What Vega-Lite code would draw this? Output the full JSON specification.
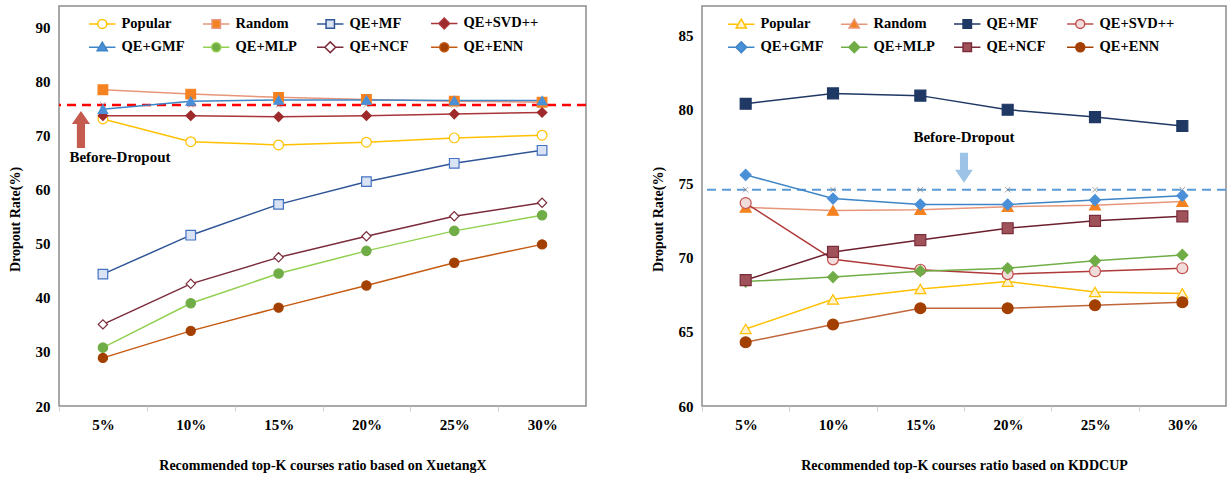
{
  "$schema": "https://vega.github.io/schema/vega-lite/v6.json",
  "background": "white",
  "padding": {"left": 7, "top": 5, "right": 5, "bottom": 5},
  "datasets": {
    "left": [
      {"k": 5, "series": "Popular", "v": 73.1}, {"k": 10, "series": "Popular", "v": 68.9}, {"k": 15, "series": "Popular", "v": 68.3}, {"k": 20, "series": "Popular", "v": 68.8}, {"k": 25, "series": "Popular", "v": 69.6}, {"k": 30, "series": "Popular", "v": 70.1},
      {"k": 5, "series": "Random", "v": 78.5}, {"k": 10, "series": "Random", "v": 77.7}, {"k": 15, "series": "Random", "v": 77.1}, {"k": 20, "series": "Random", "v": 76.7}, {"k": 25, "series": "Random", "v": 76.4}, {"k": 30, "series": "Random", "v": 76.2},
      {"k": 5, "series": "QE+MF", "v": 44.4}, {"k": 10, "series": "QE+MF", "v": 51.6}, {"k": 15, "series": "QE+MF", "v": 57.3}, {"k": 20, "series": "QE+MF", "v": 61.5}, {"k": 25, "series": "QE+MF", "v": 64.9}, {"k": 30, "series": "QE+MF", "v": 67.3},
      {"k": 5, "series": "QE+SVD++", "v": 73.7}, {"k": 10, "series": "QE+SVD++", "v": 73.7}, {"k": 15, "series": "QE+SVD++", "v": 73.5}, {"k": 20, "series": "QE+SVD++", "v": 73.7}, {"k": 25, "series": "QE+SVD++", "v": 74.0}, {"k": 30, "series": "QE+SVD++", "v": 74.3},
      {"k": 5, "series": "QE+GMF", "v": 74.9}, {"k": 10, "series": "QE+GMF", "v": 76.4}, {"k": 15, "series": "QE+GMF", "v": 76.6}, {"k": 20, "series": "QE+GMF", "v": 76.6}, {"k": 25, "series": "QE+GMF", "v": 76.5}, {"k": 30, "series": "QE+GMF", "v": 76.5},
      {"k": 5, "series": "QE+MLP", "v": 30.8}, {"k": 10, "series": "QE+MLP", "v": 39.0}, {"k": 15, "series": "QE+MLP", "v": 44.5}, {"k": 20, "series": "QE+MLP", "v": 48.7}, {"k": 25, "series": "QE+MLP", "v": 52.4}, {"k": 30, "series": "QE+MLP", "v": 55.3},
      {"k": 5, "series": "QE+NCF", "v": 35.1}, {"k": 10, "series": "QE+NCF", "v": 42.6}, {"k": 15, "series": "QE+NCF", "v": 47.5}, {"k": 20, "series": "QE+NCF", "v": 51.4}, {"k": 25, "series": "QE+NCF", "v": 55.1}, {"k": 30, "series": "QE+NCF", "v": 57.6},
      {"k": 5, "series": "QE+ENN", "v": 28.9}, {"k": 10, "series": "QE+ENN", "v": 33.9}, {"k": 15, "series": "QE+ENN", "v": 38.2}, {"k": 20, "series": "QE+ENN", "v": 42.3}, {"k": 25, "series": "QE+ENN", "v": 46.5}, {"k": 30, "series": "QE+ENN", "v": 49.9}
    ],
    "right": [
      {"k": 5, "series": "Popular", "v": 65.2}, {"k": 10, "series": "Popular", "v": 67.2}, {"k": 15, "series": "Popular", "v": 67.9}, {"k": 20, "series": "Popular", "v": 68.4}, {"k": 25, "series": "Popular", "v": 67.7}, {"k": 30, "series": "Popular", "v": 67.6},
      {"k": 5, "series": "Random", "v": 73.4}, {"k": 10, "series": "Random", "v": 73.2}, {"k": 15, "series": "Random", "v": 73.25}, {"k": 20, "series": "Random", "v": 73.45}, {"k": 25, "series": "Random", "v": 73.55}, {"k": 30, "series": "Random", "v": 73.8},
      {"k": 5, "series": "QE+MF", "v": 80.4}, {"k": 10, "series": "QE+MF", "v": 81.1}, {"k": 15, "series": "QE+MF", "v": 80.95}, {"k": 20, "series": "QE+MF", "v": 80.0}, {"k": 25, "series": "QE+MF", "v": 79.5}, {"k": 30, "series": "QE+MF", "v": 78.9},
      {"k": 5, "series": "QE+SVD++", "v": 73.7}, {"k": 10, "series": "QE+SVD++", "v": 69.9}, {"k": 15, "series": "QE+SVD++", "v": 69.2}, {"k": 20, "series": "QE+SVD++", "v": 68.9}, {"k": 25, "series": "QE+SVD++", "v": 69.1}, {"k": 30, "series": "QE+SVD++", "v": 69.3},
      {"k": 5, "series": "QE+GMF", "v": 75.6}, {"k": 10, "series": "QE+GMF", "v": 74.0}, {"k": 15, "series": "QE+GMF", "v": 73.6}, {"k": 20, "series": "QE+GMF", "v": 73.6}, {"k": 25, "series": "QE+GMF", "v": 73.9}, {"k": 30, "series": "QE+GMF", "v": 74.2},
      {"k": 5, "series": "QE+MLP", "v": 68.4}, {"k": 10, "series": "QE+MLP", "v": 68.7}, {"k": 15, "series": "QE+MLP", "v": 69.1}, {"k": 20, "series": "QE+MLP", "v": 69.3}, {"k": 25, "series": "QE+MLP", "v": 69.8}, {"k": 30, "series": "QE+MLP", "v": 70.2},
      {"k": 5, "series": "QE+NCF", "v": 68.5}, {"k": 10, "series": "QE+NCF", "v": 70.4}, {"k": 15, "series": "QE+NCF", "v": 71.2}, {"k": 20, "series": "QE+NCF", "v": 72.0}, {"k": 25, "series": "QE+NCF", "v": 72.5}, {"k": 30, "series": "QE+NCF", "v": 72.8},
      {"k": 5, "series": "QE+ENN", "v": 64.3}, {"k": 10, "series": "QE+ENN", "v": 65.5}, {"k": 15, "series": "QE+ENN", "v": 66.6}, {"k": 20, "series": "QE+ENN", "v": 66.6}, {"k": 25, "series": "QE+ENN", "v": 66.8}, {"k": 30, "series": "QE+ENN", "v": 67.0}
    ],
    "leftBase": [{"k": 5, "v": 75.7}, {"k": 10, "v": 75.7}, {"k": 15, "v": 75.7}, {"k": 20, "v": 75.7}, {"k": 25, "v": 75.7}, {"k": 30, "v": 75.7}],
    "rightBase": [{"k": 5, "v": 74.6}, {"k": 10, "v": 74.6}, {"k": 15, "v": 74.6}, {"k": 20, "v": 74.6}, {"k": 25, "v": 74.6}, {"k": 30, "v": 74.6}],
    "leftRef": [{"v": 75.7}],
    "rightRef": [{"v": 74.6}],
    "leftArrow": [{"k": 3.75, "v": 71.16}],
    "rightArrow": [{"k": 17.5, "v": 76.08}],
    "leftNote": [{"k": 5.97, "v": 66.07, "label": "Before-Dropout"}],
    "rightNote": [{"k": 17.5, "v": 78.15, "label": "Before-Dropout"}]
  },
  "hconcat": [
    {
      "width": 527,
      "height": 400,
      "resolve": {"scale": {"color": "independent", "fill": "independent", "stroke": "independent", "shape": "independent", "size": "independent"}},
      "layer": [
        {
          "data": {"name": "leftRef"},
          "mark": {"type": "rule", "color": "#FF0000", "strokeWidth": 2.5, "strokeDash": [9, 6]},
          "encoding": {"y": {"field": "v", "type": "quantitative", "scale": {"domain": [20, 94], "nice": false, "zero": false}}}
        },
        {
          "data": {"name": "leftBase"},
          "mark": {"type": "point", "shape": "M-1,-1L1,1M1,-1L-1,1", "size": 30, "stroke": "#7F7F7F", "strokeWidth": 1, "filled": false},
          "encoding": {
            "x": {"field": "k", "type": "quantitative", "scale": {"domain": [2.5, 32.5], "nice": false, "zero": false}},
            "y": {"field": "v", "type": "quantitative", "scale": {"domain": [20, 94], "nice": false, "zero": false}}
          }
        },
        {
          "data": {"name": "left"},
          "mark": {"type": "line", "strokeWidth": 1.5},
          "encoding": {
            "x": {"field": "k", "type": "quantitative", "scale": {"domain": [2.5, 32.5], "nice": false, "zero": false},
              "axis": {"values": [2.5, 7.5, 12.5, 17.5, 22.5, 27.5], "labelExpr": "(datum.value + 2.5) + '%'", "labelOffset": 44, "labelFlush": false, "labelOverlap": false, "labelBound": false, "title": "Recommended top-K courses ratio based on XuetangX"}},
            "y": {"field": "v", "type": "quantitative", "scale": {"domain": [20, 94], "nice": false, "zero": false},
              "axis": {"values": [20, 30, 40, 50, 60, 70, 80, 90], "title": "Dropout Rate(%)", "titleY": 213}},
            "color": {"field": "series", "type": "nominal", "legend": null,
              "scale": {"domain": ["Popular", "Random", "QE+MF", "QE+SVD++", "QE+GMF", "QE+MLP", "QE+NCF", "QE+ENN"],
                "range": ["#FFC000", "#E8967A", "#2F5597", "#A8353A", "#3D85C6", "#92D050", "#7B2C3B", "#C55A11"]}}
          }
        },
        {
          "data": {"name": "left"},
          "mark": {"type": "point", "filled": true, "strokeWidth": 1.2, "opacity": 1},
          "encoding": {
            "x": {"field": "k", "type": "quantitative", "scale": {"domain": [2.5, 32.5], "nice": false, "zero": false}},
            "y": {"field": "v", "type": "quantitative", "scale": {"domain": [20, 94], "nice": false, "zero": false}},
            "fill": {"field": "series", "type": "nominal", "legend": null,
              "scale": {"domain": ["Popular", "Random", "QE+MF", "QE+SVD++", "QE+GMF", "QE+MLP", "QE+NCF", "QE+ENN"],
                "range": ["#FFFFFF", "#F58220", "#DAE3F3", "#9E2A2B", "#4A90D9", "#70AD47", "#FFFFFF", "#A33F00"]}},
            "stroke": {"field": "series", "type": "nominal", "legend": null,
              "scale": {"domain": ["Popular", "Random", "QE+MF", "QE+SVD++", "QE+GMF", "QE+MLP", "QE+NCF", "QE+ENN"],
                "range": ["#FFC000", "#F58220", "#4472C4", "#9E2A2B", "#4A90D9", "#70AD47", "#7B2C3B", "#A33F00"]}},
            "shape": {"field": "series", "type": "nominal", "legend": null,
              "scale": {"domain": ["Popular", "Random", "QE+MF", "QE+SVD++", "QE+GMF", "QE+MLP", "QE+NCF", "QE+ENN"],
                "range": ["circle", "square", "square", "diamond", "triangle-up", "circle", "diamond", "circle"]}},
            "size": {"field": "series", "type": "nominal", "legend": null,
              "scale": {"domain": ["Popular", "Random", "QE+MF", "QE+SVD++", "QE+GMF", "QE+MLP", "QE+NCF", "QE+ENN"],
                "range": [95, 85, 75, 130, 100, 95, 130, 95]}}
          }
        },
        {
          "data": {"name": "left"},
          "mark": {"type": "point", "filled": true, "opacity": 0, "strokeWidth": 1.5},
          "encoding": {
            "x": {"field": "k", "type": "quantitative", "scale": {"domain": [2.5, 32.5], "nice": false, "zero": false}},
            "y": {"field": "v", "type": "quantitative", "scale": {"domain": [20, 94], "nice": false, "zero": false}},
            "fill": {"field": "series", "type": "nominal",
              "scale": {"domain": ["Popular", "Random", "QE+MF", "QE+SVD++", "QE+GMF", "QE+MLP", "QE+NCF", "QE+ENN"],
                "range": ["#FFFFFF", "#F58220", "#DAE3F3", "#9E2A2B", "#4A90D9", "#70AD47", "#FFFFFF", "#A33F00"]},
              "legend": {"orient": "none", "direction": "horizontal", "legendX": 36, "legendY": 10, "columns": 4, "gridAlign": "all", "title": null, "padding": 0, "symbolSize": 144, "symbolStrokeWidth": 1.5, "symbolOpacity": 1, "labelOffset": 12, "columnPadding": 3, "rowPadding": 6, "labelFont": "Liberation Serif", "labelFontWeight": "bold", "labelFontSize": 14.5, "labelColor": "#000000"}},
            "stroke": {"field": "series", "type": "nominal",
              "scale": {"domain": ["Popular", "Random", "QE+MF", "QE+SVD++", "QE+GMF", "QE+MLP", "QE+NCF", "QE+ENN"],
                "range": ["#FFC000", "#E8967A", "#2F5597", "#A8353A", "#3D85C6", "#92D050", "#7B2C3B", "#C55A11"]},
              "legend": {"orient": "none", "direction": "horizontal", "legendX": 36, "legendY": 10, "columns": 4, "gridAlign": "all", "title": null, "padding": 0, "symbolSize": 144, "symbolStrokeWidth": 1.5, "symbolOpacity": 1, "labelOffset": 12, "columnPadding": 3, "rowPadding": 6, "labelFont": "Liberation Serif", "labelFontWeight": "bold", "labelFontSize": 14.5, "labelColor": "#000000"}},
            "shape": {"field": "series", "type": "nominal",
              "scale": {"domain": ["Popular", "Random", "QE+MF", "QE+SVD++", "QE+GMF", "QE+MLP", "QE+NCF", "QE+ENN"],
                "range": [
                  "M-2.2,0H-0.75M0.75,0H2.2M0.75,0A0.75,0.75,0,1,1,-0.75,0A0.75,0.75,0,1,1,0.75,0Z",
                  "M-2.2,0H-0.7M0.7,0H2.2M-0.7,-0.7H0.7V0.7H-0.7Z",
                  "M-2.2,0H-0.7M0.7,0H2.2M-0.7,-0.7H0.7V0.7H-0.7Z",
                  "M-2.2,0H-0.9M0.9,0H2.2M0,-0.9L0.9,0L0,0.9L-0.9,0Z",
                  "M-2.2,0H-0.55M0.55,0H2.2M0,-0.85L0.85,0.6H-0.85Z",
                  "M-2.2,0H-0.75M0.75,0H2.2M0.75,0A0.75,0.75,0,1,1,-0.75,0A0.75,0.75,0,1,1,0.75,0Z",
                  "M-2.2,0H-0.9M0.9,0H2.2M0,-0.9L0.9,0L0,0.9L-0.9,0Z",
                  "M-2.2,0H-0.75M0.75,0H2.2M0.75,0A0.75,0.75,0,1,1,-0.75,0A0.75,0.75,0,1,1,0.75,0Z"
                ]},
              "legend": {"orient": "none", "direction": "horizontal", "legendX": 36, "legendY": 10, "columns": 4, "gridAlign": "all", "title": null, "padding": 0, "symbolSize": 144, "symbolStrokeWidth": 1.5, "symbolOpacity": 1, "labelOffset": 12, "columnPadding": 3, "rowPadding": 6, "labelFont": "Liberation Serif", "labelFontWeight": "bold", "labelFontSize": 14.5, "labelColor": "#000000"}}
          }
        },
        {
          "data": {"name": "leftArrow"},
          "mark": {"type": "point", "shape": "M0,-1L0.49,-0.3H0.22V1H-0.22V-0.3H-0.49Z", "size": 1369, "filled": true, "color": "#C55A4F", "opacity": 1, "strokeWidth": 0},
          "encoding": {
            "x": {"field": "k", "type": "quantitative", "scale": {"domain": [2.5, 32.5], "nice": false, "zero": false}},
            "y": {"field": "v", "type": "quantitative", "scale": {"domain": [20, 94], "nice": false, "zero": false}}
          }
        },
        {
          "data": {"name": "leftNote"},
          "mark": {"type": "text", "font": "Liberation Serif", "fontWeight": "bold", "fontSize": 15, "color": "#000000", "align": "center", "baseline": "middle"},
          "encoding": {
            "x": {"field": "k", "type": "quantitative", "scale": {"domain": [2.5, 32.5], "nice": false, "zero": false}},
            "y": {"field": "v", "type": "quantitative", "scale": {"domain": [20, 94], "nice": false, "zero": false}},
            "text": {"field": "label"}
          }
        }
      ]
    },
    {
      "width": 524,
      "height": 400,
      "resolve": {"scale": {"color": "independent", "fill": "independent", "stroke": "independent", "shape": "independent", "size": "independent"}},
      "layer": [
        {
          "data": {"name": "rightRef"},
          "mark": {"type": "rule", "color": "#5B9BD5", "strokeWidth": 2, "strokeDash": [9, 6]},
          "encoding": {"y": {"field": "v", "type": "quantitative", "scale": {"domain": [60, 87], "nice": false, "zero": false}}}
        },
        {
          "data": {"name": "rightBase"},
          "mark": {"type": "point", "shape": "M-1,-1L1,1M1,-1L-1,1", "size": 30, "stroke": "#7F7F7F", "strokeWidth": 1, "filled": false},
          "encoding": {
            "x": {"field": "k", "type": "quantitative", "scale": {"domain": [2.5, 32.5], "nice": false, "zero": false}},
            "y": {"field": "v", "type": "quantitative", "scale": {"domain": [60, 87], "nice": false, "zero": false}}
          }
        },
        {
          "data": {"name": "right"},
          "mark": {"type": "line", "strokeWidth": 1.5},
          "encoding": {
            "x": {"field": "k", "type": "quantitative", "scale": {"domain": [2.5, 32.5], "nice": false, "zero": false},
              "axis": {"values": [2.5, 7.5, 12.5, 17.5, 22.5, 27.5], "labelExpr": "(datum.value + 2.5) + '%'", "labelOffset": 44, "labelFlush": false, "labelOverlap": false, "labelBound": false, "title": "Recommended top-K courses ratio based on KDDCUP"}},
            "y": {"field": "v", "type": "quantitative", "scale": {"domain": [60, 87], "nice": false, "zero": false},
              "axis": {"values": [60, 65, 70, 75, 80, 85], "title": "Dropout Rate(%)", "titleY": 213}},
            "color": {"field": "series", "type": "nominal", "legend": null,
              "scale": {"domain": ["Popular", "Random", "QE+MF", "QE+SVD++", "QE+GMF", "QE+MLP", "QE+NCF", "QE+ENN"],
                "range": ["#FFC000", "#E8967A", "#1F3864", "#B03A3A", "#3D85C6", "#70AD47", "#6B1F2E", "#C0663A"]}}
          }
        },
        {
          "data": {"name": "right"},
          "mark": {"type": "point", "filled": true, "strokeWidth": 1.2, "opacity": 1},
          "encoding": {
            "x": {"field": "k", "type": "quantitative", "scale": {"domain": [2.5, 32.5], "nice": false, "zero": false}},
            "y": {"field": "v", "type": "quantitative", "scale": {"domain": [60, 87], "nice": false, "zero": false}},
            "fill": {"field": "series", "type": "nominal", "legend": null,
              "scale": {"domain": ["Popular", "Random", "QE+MF", "QE+SVD++", "QE+GMF", "QE+MLP", "QE+NCF", "QE+ENN"],
                "range": ["#FFF2CC", "#F58220", "#1F3864", "#F2DCDB", "#4A90D9", "#70AD47", "#A0525A", "#A33F00"]}},
            "stroke": {"field": "series", "type": "nominal", "legend": null,
              "scale": {"domain": ["Popular", "Random", "QE+MF", "QE+SVD++", "QE+GMF", "QE+MLP", "QE+NCF", "QE+ENN"],
                "range": ["#FFC000", "#F58220", "#1F3864", "#C0504D", "#4A90D9", "#70AD47", "#7B2C3B", "#A33F00"]}},
            "shape": {"field": "series", "type": "nominal", "legend": null,
              "scale": {"domain": ["Popular", "Random", "QE+MF", "QE+SVD++", "QE+GMF", "QE+MLP", "QE+NCF", "QE+ENN"],
                "range": ["triangle-up", "triangle-up", "square", "circle", "diamond", "diamond", "square", "circle"]}},
            "size": {"field": "series", "type": "nominal", "legend": null,
              "scale": {"domain": ["Popular", "Random", "QE+MF", "QE+SVD++", "QE+GMF", "QE+MLP", "QE+NCF", "QE+ENN"],
                "range": [120, 120, 100, 120, 150, 130, 100, 110]}}
          }
        },
        {
          "data": {"name": "right"},
          "mark": {"type": "point", "filled": true, "opacity": 0, "strokeWidth": 1.5},
          "encoding": {
            "x": {"field": "k", "type": "quantitative", "scale": {"domain": [2.5, 32.5], "nice": false, "zero": false}},
            "y": {"field": "v", "type": "quantitative", "scale": {"domain": [60, 87], "nice": false, "zero": false}},
            "fill": {"field": "series", "type": "nominal",
              "scale": {"domain": ["Popular", "Random", "QE+MF", "QE+SVD++", "QE+GMF", "QE+MLP", "QE+NCF", "QE+ENN"],
                "range": ["#FFF2CC", "#F58220", "#1F3864", "#F2DCDB", "#4A90D9", "#70AD47", "#A0525A", "#A33F00"]},
              "legend": {"orient": "none", "direction": "horizontal", "legendX": 32, "legendY": 10, "columns": 4, "gridAlign": "all", "title": null, "padding": 0, "symbolSize": 144, "symbolStrokeWidth": 1.5, "symbolOpacity": 1, "labelOffset": 12, "columnPadding": 2, "rowPadding": 6, "labelFont": "Liberation Serif", "labelFontWeight": "bold", "labelFontSize": 14.5, "labelColor": "#000000"}},
            "stroke": {"field": "series", "type": "nominal",
              "scale": {"domain": ["Popular", "Random", "QE+MF", "QE+SVD++", "QE+GMF", "QE+MLP", "QE+NCF", "QE+ENN"],
                "range": ["#FFC000", "#E8967A", "#1F3864", "#C0504D", "#3D85C6", "#70AD47", "#7B2C3B", "#A33F00"]},
              "legend": {"orient": "none", "direction": "horizontal", "legendX": 32, "legendY": 10, "columns": 4, "gridAlign": "all", "title": null, "padding": 0, "symbolSize": 144, "symbolStrokeWidth": 1.5, "symbolOpacity": 1, "labelOffset": 12, "columnPadding": 2, "rowPadding": 6, "labelFont": "Liberation Serif", "labelFontWeight": "bold", "labelFontSize": 14.5, "labelColor": "#000000"}},
            "shape": {"field": "series", "type": "nominal",
              "scale": {"domain": ["Popular", "Random", "QE+MF", "QE+SVD++", "QE+GMF", "QE+MLP", "QE+NCF", "QE+ENN"],
                "range": [
                  "M-2.2,0H-0.55M0.55,0H2.2M0,-0.85L0.85,0.6H-0.85Z",
                  "M-2.2,0H-0.55M0.55,0H2.2M0,-0.85L0.85,0.6H-0.85Z",
                  "M-2.2,0H-0.7M0.7,0H2.2M-0.7,-0.7H0.7V0.7H-0.7Z",
                  "M-2.2,0H-0.75M0.75,0H2.2M0.75,0A0.75,0.75,0,1,1,-0.75,0A0.75,0.75,0,1,1,0.75,0Z",
                  "M-2.2,0H-0.9M0.9,0H2.2M0,-0.9L0.9,0L0,0.9L-0.9,0Z",
                  "M-2.2,0H-0.9M0.9,0H2.2M0,-0.9L0.9,0L0,0.9L-0.9,0Z",
                  "M-2.2,0H-0.7M0.7,0H2.2M-0.7,-0.7H0.7V0.7H-0.7Z",
                  "M-2.2,0H-0.75M0.75,0H2.2M0.75,0A0.75,0.75,0,1,1,-0.75,0A0.75,0.75,0,1,1,0.75,0Z"
                ]},
              "legend": {"orient": "none", "direction": "horizontal", "legendX": 32, "legendY": 10, "columns": 4, "gridAlign": "all", "title": null, "padding": 0, "symbolSize": 144, "symbolStrokeWidth": 1.5, "symbolOpacity": 1, "labelOffset": 12, "columnPadding": 2, "rowPadding": 6, "labelFont": "Liberation Serif", "labelFontWeight": "bold", "labelFontSize": 14.5, "labelColor": "#000000"}}
          }
        },
        {
          "data": {"name": "rightArrow"},
          "mark": {"type": "point", "shape": "M0,1L0.59,0.13H0.27V-1H-0.27V0.13H-0.59Z", "size": 900, "filled": true, "color": "#9DC3E6", "opacity": 1, "strokeWidth": 0},
          "encoding": {
            "x": {"field": "k", "type": "quantitative", "scale": {"domain": [2.5, 32.5], "nice": false, "zero": false}},
            "y": {"field": "v", "type": "quantitative", "scale": {"domain": [60, 87], "nice": false, "zero": false}}
          }
        },
        {
          "data": {"name": "rightNote"},
          "mark": {"type": "text", "font": "Liberation Serif", "fontWeight": "bold", "fontSize": 15, "color": "#000000", "align": "center", "baseline": "middle"},
          "encoding": {
            "x": {"field": "k", "type": "quantitative", "scale": {"domain": [2.5, 32.5], "nice": false, "zero": false}},
            "y": {"field": "v", "type": "quantitative", "scale": {"domain": [60, 87], "nice": false, "zero": false}},
            "text": {"field": "label"}
          }
        }
      ]
    }
  ],
  "spacing": 62,
  "config": {
    "font": "Liberation Serif",
    "view": {"stroke": "#8C8C8C", "strokeWidth": 1.5},
    "axis": {"labelFont": "Liberation Serif", "labelFontWeight": "bold", "labelFontSize": 15, "labelColor": "#000000", "titleFont": "Liberation Serif", "titleFontWeight": "bold", "titleFontSize": 14, "titleColor": "#000000", "domain": false, "grid": false},
    "axisY": {"ticks": false, "labelPadding": 9, "titlePadding": 13},
    "axisX": {"ticks": true, "tickColor": "#D0D0D0", "tickSize": 5, "labelPadding": 6, "titlePadding": 26}
  }
}
